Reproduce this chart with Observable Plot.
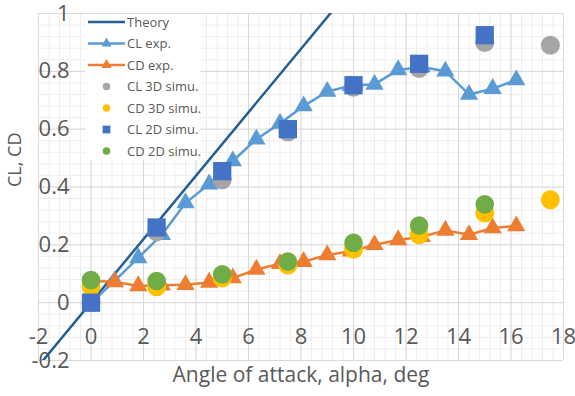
<!DOCTYPE html>
<html>
<head>
<meta charset="utf-8">
<script src="https://cdn.jsdelivr.net/npm/d3@7"></script>
<script src="https://cdn.jsdelivr.net/npm/@observablehq/plot@0.6"></script>
<style>
  html, body { margin: 0; padding: 0; background: #fff; }
  #chart { width: 575px; height: 396px; }
</style>
</head>
<body>
<div id="chart"></div>
<script>
// ---- data ----
const theoryAlpha = [-2, 10];
const theoryCL = [-0.219, 1.097];

const expAlpha = [0, 0.9, 1.8, 2.7, 3.6, 4.5, 5.4, 6.3, 7.2, 8.1, 9.0, 9.9, 10.8, 11.7, 12.6, 13.5, 14.4, 15.3, 16.2];
const clExp = [0.0, 0.075, 0.155, 0.235, 0.345, 0.41, 0.49, 0.565, 0.62, 0.68, 0.73, 0.75, 0.755, 0.805, 0.815, 0.80, 0.72, 0.74, 0.77];
const cdExp = [0.075, 0.072, 0.058, 0.06, 0.062, 0.07, 0.085, 0.115, 0.135, 0.142, 0.165, 0.178, 0.2, 0.217, 0.228, 0.25, 0.235, 0.258, 0.265];

const simAlpha = [0, 2.5, 5, 7.5, 10, 12.5, 15, 17.5];
const cl3D = [0.0, 0.245, 0.425, 0.59, 0.745, 0.81, 0.9, 0.89];
const cd3D = [0.055, 0.055, 0.085, 0.13, 0.185, 0.235, 0.31, 0.356];
const cl2D = [0.0, 0.26, 0.455, 0.6, 0.752, 0.826, 0.925, null];
const cd2D = [0.078, 0.075, 0.098, 0.142, 0.207, 0.267, 0.34, null];

const xTicks = [-2, 0, 2, 4, 6, 8, 10, 12, 14, 16, 18];
const yTicks = [-0.2, 0, 0.2, 0.4, 0.6, 0.8, 1];
const xMinor = d3.range(-2, 18.001, 0.4);
const yMinor = d3.range(-0.2, 1.0001, 0.04);

const seriesNames = ["Theory", "CL exp.", "CD exp.", "CL 3D simu.", "CD 3D simu.", "CL 2D simu.", "CD 2D simu."];
const seriesColors = ["#255E91", "#5B9BD5", "#ED7D31", "#A5A5A5", "#FFC000", "#4472C4", "#70AD47"];
const seriesSymbols = [null, "triangle", "triangle", "circle", "circle", "square", "circle"];

// ---- tables ----
const theory = theoryAlpha.map((a, i) => ({a, v: theoryCL[i]}));
const clE = expAlpha.map((a, i) => ({a, v: clExp[i]}));
const cdE = expAlpha.map((a, i) => ({a, v: cdExp[i]}));
const sim = (arr) => simAlpha.map((a, i) => ({a, v: arr[i]})).filter(d => d.v != null);

const txt = "#595959";
const font = "Open Sans";

const chart = Plot.plot({
  width: 575,
  height: 396,
  marginLeft: 38,
  marginRight: 12,
  marginTop: 13,
  marginBottom: 36,
  x: {domain: [-2, 18]},
  y: {domain: [-0.2, 1]},
  style: {fontFamily: font, background: "white", overflow: "visible"},
  marks: [
    Plot.gridX(xMinor, {stroke: "#eeeeee", strokeOpacity: 1}),
    Plot.gridY(yMinor, {stroke: "#eeeeee", strokeOpacity: 1}),
    Plot.gridX(xTicks, {stroke: "#d9d9d9", strokeOpacity: 1}),
    Plot.gridY(yTicks, {stroke: "#d9d9d9", strokeOpacity: 1}),
    Plot.axisX(xTicks, {tickSize: 0, tickPadding: 0, dy: -32, fontSize: 22, fill: txt, label: null, tickFormat: d => String(d)}),
    Plot.axisY(yTicks, {tickSize: 0, tickPadding: 0, dx: 31, fontSize: 22, fill: txt, label: null, tickFormat: d => String(d)}),
    Plot.text(["CL, CD"], {frameAnchor: "left", dx: -23, rotate: -90, fontSize: 18, fill: txt}),
    Plot.text(["Angle of attack, alpha, deg"], {frameAnchor: "bottom", dy: 21, fontSize: 21, fill: txt}),
    // Theory
    Plot.line(theory, {x: "a", y: "v", stroke: seriesColors[0], strokeWidth: 2.5, clip: true}),
    // CL exp
    Plot.line(clE, {x: "a", y: "v", stroke: seriesColors[1], strokeWidth: 2.5}),
    Plot.dot(clE, {x: "a", y: "v", symbol: "triangle", r: 6.8, fill: seriesColors[1]}),
    // CD exp
    Plot.line(cdE, {x: "a", y: "v", stroke: seriesColors[2], strokeWidth: 2.5}),
    Plot.dot(cdE, {x: "a", y: "v", symbol: "triangle", r: 6.8, fill: seriesColors[2]}),
    // simulations
    Plot.dot(sim(cl3D), {x: "a", y: "v", symbol: "circle", r: 9.5, fill: seriesColors[3]}),
    Plot.dot(sim(cd3D), {x: "a", y: "v", symbol: "circle", r: 9.5, fill: seriesColors[4]}),
    Plot.dot(sim(cl2D), {x: "a", y: "v", symbol: "square", r: 10.3, fill: seriesColors[5]}),
    Plot.dot(sim(cd2D), {x: "a", y: "v", symbol: "circle", r: 9.3, fill: seriesColors[6]})
  ]
});

document.getElementById("chart").appendChild(chart);

// ---- legend (inside plot area, top-left) ----
const svg = d3.select(chart);
const lg = svg.append("g").attr("font-family", font).attr("font-size", 13).attr("fill", txt).attr("text-anchor", "start");
lg.append("rect").attr("x", 86).attr("y", 14).attr("width", 114).attr("height", 146).attr("fill", "white");
const sym = {triangle: d3.symbolTriangle, circle: d3.symbolCircle, square: d3.symbolSquare};
const symSize = {triangle: 45, circle: 45, square: 60};
seriesNames.forEach((name, i) => {
  const cy = 22 + i * 21.5;
  const isLine = i < 3;
  if (isLine) {
    lg.append("line").attr("x1", 88).attr("x2", 125).attr("y1", cy).attr("y2", cy)
      .attr("stroke", seriesColors[i]).attr("stroke-width", 2.5);
  }
  if (seriesSymbols[i]) {
    lg.append("path").attr("d", d3.symbol(sym[seriesSymbols[i]], symSize[seriesSymbols[i]])())
      .attr("transform", `translate(106.5,${cy})`).attr("fill", seriesColors[i]);
  }
  lg.append("text").attr("x", 127).attr("y", cy).attr("dy", "0.35em").attr("text-anchor", "start").text(name);
});
</script>
</body>
</html>
